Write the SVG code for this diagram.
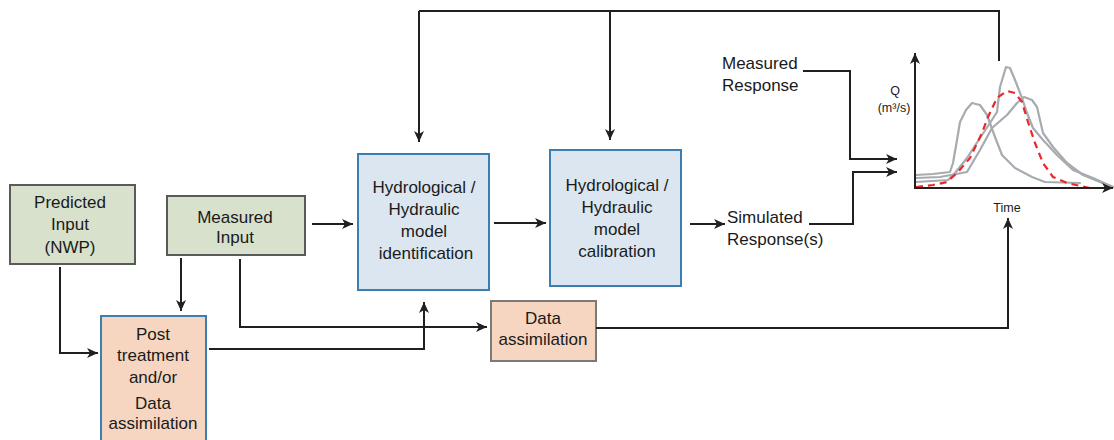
<svg xmlns="http://www.w3.org/2000/svg" width="1114" height="440" viewBox="0 0 1114 440">
<style>
.t{font-family:"Liberation Sans",Arial,sans-serif;font-size:17px;fill:#1a1a1a;}
.tc{text-anchor:middle;}
.s{font-size:12.5px;}
.green{fill:#d7e1cc;stroke:#5a5a5a;stroke-width:2;}
.blue{fill:#dce6f0;stroke:#3b7fb2;stroke-width:2;}
.peach{fill:#f6d6c0;stroke:#3b7fb2;stroke-width:2;}
.peachg{fill:#f6d6c0;stroke:#7a7a7a;stroke-width:2;}
.c{fill:none;stroke:#231f20;stroke-width:2;}
.ca{fill:none;stroke:#231f20;stroke-width:2;marker-end:url(#arr);}
.g{fill:none;stroke:#a7abb0;stroke-width:2.2;stroke-linejoin:round;stroke-linecap:round;}
.r{fill:none;stroke:#e8282b;stroke-width:2.2;stroke-dasharray:7,5;}
</style>
<defs>
<marker id="arr" markerUnits="userSpaceOnUse" markerWidth="12" markerHeight="10" viewBox="0 0 12 10" refX="11" refY="5" orient="auto">
<path d="M0,0 L11,5 L0,10 L3,5 z" fill="#231f20"/>
</marker>
</defs>

<g id="predicted-input">
<rect class="green" x="10" y="185" width="125" height="79"/>
<text class="t tc" x="70" y="208">Predicted</text>
<text class="t tc" x="70" y="230">Input</text>
<text class="t tc" x="70" y="253">(NWP)</text>
</g>

<g id="measured-input">
<rect class="green" x="167" y="196" width="138" height="59"/>
<text class="t tc" x="235" y="223">Measured</text>
<text class="t tc" x="235" y="243">Input</text>
</g>

<g id="post-treatment">
<rect class="peach" x="101" y="316" width="105" height="134"/>
<text class="t tc" x="153" y="340">Post</text>
<text class="t tc" x="153" y="361">treatment</text>
<text class="t tc" x="153" y="383">and/or</text>
<text class="t tc" x="153" y="409">Data</text>
<text class="t tc" x="153" y="429">assimilation</text>
</g>

<g id="model-identification">
<rect class="blue" x="358" y="154" width="131" height="136"/>
<text class="t tc" x="424" y="193">Hydrological /</text>
<text class="t tc" x="424" y="215">Hydraulic</text>
<text class="t tc" x="424" y="237">model</text>
<text class="t tc" x="426" y="259">identification</text>
</g>

<g id="model-calibration">
<rect class="blue" x="550" y="150" width="131" height="136"/>
<text class="t tc" x="617" y="191">Hydrological /</text>
<text class="t tc" x="617" y="213">Hydraulic</text>
<text class="t tc" x="617" y="235">model</text>
<text class="t tc" x="617" y="257">calibration</text>
</g>

<g id="data-assimilation">
<rect class="peachg" x="491" y="301" width="105" height="60"/>
<text class="t tc" x="543" y="324">Data</text>
<text class="t tc" x="543" y="345">assimilation</text>
</g>

<g id="measured-response">
<text class="t" x="722" y="69">Measured</text>
<text class="t" x="722" y="91">Response</text>
</g>

<g id="simulated-response">
<text class="t" x="727" y="223">Simulated</text>
<text class="t" x="727" y="245">Response(s)</text>
</g>

<g id="hydrograph">
<text class="t tc s" x="895" y="95">Q</text>
<text class="t tc s" x="894" y="112">(m³/s)</text>
<text class="t tc s" x="1007" y="212">Time</text>
<polyline class="g" points="916,175 933,174 950,172 953,163 957,140 960,122 966,110 972,103 980,105 987,115 995,137 1002,155 1015,168 1032,177 1045,182 1080,183"/>
<polyline class="g" points="916,182 948,180 955,173 967,158 980,138 990,123 997,112 1000,87 1006,67 1010,68 1015,80 1022,98 1027,113 1033,128 1043,140 1057,155 1073,170 1093,178 1113,187"/>
<polyline class="g" points="916,178 940,177 967,172 980,150 992,128 1007,115 1017,103 1024,97 1032,100 1037,107 1040,120 1043,133 1053,147 1067,163 1083,175 1100,182 1113,187"/>
<polyline class="r" points="916,187 933,185 947,182 958,172 970,158 982,133 988,117 997,98 1007,91 1015,93 1022,102 1028,122 1035,143 1043,163 1053,177 1067,183 1090,188"/>
<path class="ca" d="M915,189 V53"/>
<path class="ca" d="M914,188 H1113"/>
</g>

<g id="connectors">
<path class="ca" d="M60,267 V353 H98"/>
<path class="ca" d="M181,258 V311"/>
<path class="ca" d="M312,224 H353"/>
<path class="ca" d="M240,259 V327 H487"/>
<path class="ca" d="M209,349 H424 V302"/>
<path class="ca" d="M494,223 H546"/>
<path class="ca" d="M690,224 H725"/>
<path class="ca" d="M803,71 H850 V159 H897"/>
<path class="ca" d="M809,224 H853 V172 H897"/>
<path class="ca" d="M596,328 H1008 V218"/>
<path class="c" d="M999,61 V11 H419"/>
<path class="ca" d="M419,11 V142"/>
<path class="ca" d="M610,11 V140"/>
</g>
</svg>
